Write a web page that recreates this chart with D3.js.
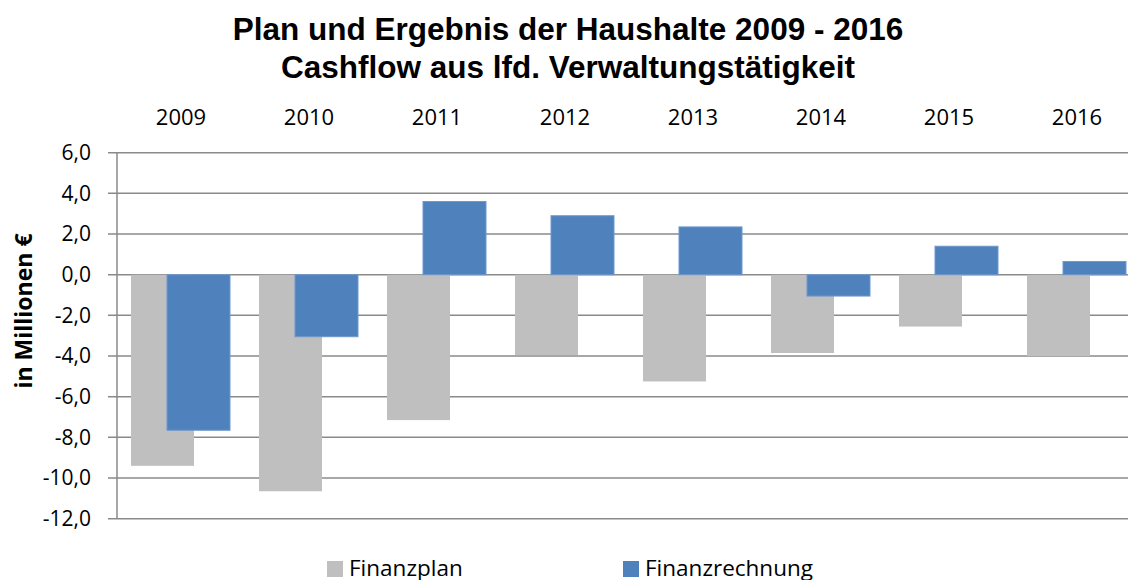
<!DOCTYPE html>
<html>
<head>
<meta charset="utf-8">
<script src="https://cdn.jsdelivr.net/npm/d3@7"></script>
<style>
  body { margin: 0; background: #fff; }
  svg { display: block; }
</style>
</head>
<body>
<div id="chart"></div>
<script>
// chart data
const years = ["2009", "2010", "2011", "2012", "2013", "2014", "2015", "2016"];
const seriesNames = ["Finanzplan", "Finanzrechnung"];
const finanzplan = [-9.4, -10.65, -7.15, -3.95, -5.25, -3.85, -2.55, -4.0];
const finanzrechnung = [-7.65, -3.05, 3.6, 2.9, 2.35, -1.05, 1.4, 0.65];
const yTicks = [6, 4, 2, 0, -2, -4, -6, -8, -10, -12];
const titleLines = ["Plan und Ergebnis der Haushalte 2009 - 2016", "Cashflow aus lfd. Verwaltungstätigkeit"];

const W = 1128, H = 580;
const colors = { Finanzplan: "#bfbfbf", Finanzrechnung: "#4f81bd" };
const gridColor = "#8a8a8a";
const font = "'Open Sans', 'DejaVu Sans', sans-serif";

const svg = d3.select("#chart").append("svg")
  .attr("width", W)
  .attr("height", H);

const x = d3.scaleBand()
  .domain(years)
  .range([117, 1141]);

const y = d3.scaleLinear()
  .domain([-12, 6])
  .range([518.7, 152.7]);

// offset of each series bar inside a category (bars overlap)
const barW = 63;
const xs = d3.scalePoint()
  .domain(seriesNames)
  .range([14, 50]);

// title
svg.append("g")
  .selectAll("text")
  .data(titleLines)
  .enter().append("text")
  .attr("x", 568)
  .attr("y", (d, i) => 40 + i * 38)
  .attr("text-anchor", "middle")
  .attr("font-family", "'Liberation Sans', Arial, sans-serif")
  .attr("font-weight", "bold")
  .attr("font-size", 31.5)
  .attr("fill", "#000")
  .text(d => d);

// gridlines + tick marks
const grid = svg.append("g");
grid.selectAll("line.grid")
  .data(yTicks)
  .enter().append("line")
  .attr("class", "grid")
  .attr("x1", 108)
  .attr("x2", 1141)
  .attr("y1", d => y(d))
  .attr("y2", d => y(d))
  .attr("stroke", gridColor)
  .attr("stroke-width", 1.5);

// vertical axis line
svg.append("line")
  .attr("x1", x.range()[0])
  .attr("x2", x.range()[0])
  .attr("y1", y(6))
  .attr("y2", y(-12))
  .attr("stroke", gridColor)
  .attr("stroke-width", 1.5);

// y tick labels
svg.append("g")
  .selectAll("text")
  .data(yTicks)
  .enter().append("text")
  .attr("x", 91)
  .attr("y", d => y(d))
  .attr("dy", "0.35em")
  .attr("text-anchor", "end")
  .attr("font-family", font)
  .attr("font-size", 21)
  .attr("fill", "#000")
  .text(d => d3.format(".1f")(d).replace(".", ",").replace("−", "-"));

// y axis title
svg.append("text")
  .attr("transform", "translate(32,311) rotate(-90)")
  .attr("text-anchor", "middle")
  .attr("font-family", font)
  .attr("font-weight", "bold")
  .attr("font-size", 23)
  .attr("fill", "#000")
  .text("in Millionen €");

// category labels at top
svg.append("g")
  .selectAll("text")
  .data(years)
  .enter().append("text")
  .attr("x", d => x(d) + x.bandwidth() / 2)
  .attr("y", 125)
  .attr("text-anchor", "middle")
  .attr("font-family", font)
  .attr("font-size", 22)
  .attr("fill", "#000")
  .text(d => d);

// bars
const seriesData = [
  { name: "Finanzplan", values: finanzplan },
  { name: "Finanzrechnung", values: finanzrechnung }
];

seriesData.forEach(s => {
  svg.append("g")
    .selectAll("rect")
    .data(s.values.map((v, i) => ({ year: years[i], value: v })))
    .enter().append("rect")
    .attr("x", d => x(d.year) + xs(s.name))
    .attr("y", d => y(Math.max(0, d.value)))
    .attr("width", barW)
    .attr("height", d => Math.abs(y(d.value) - y(0)))
    .attr("fill", colors[s.name])
    .attr("stroke", s.name === "Finanzrechnung" ? "#6f98cc" : "none")
    .attr("stroke-width", 1);
});

// legend
const legendPos = [327, 623];
const legend = svg.append("g")
  .selectAll("g")
  .data(seriesNames)
  .enter().append("g")
  .attr("transform", (d, i) => `translate(${legendPos[i]},561)`);

legend.append("rect")
  .attr("width", 16)
  .attr("height", 16)
  .attr("fill", d => colors[d]);

legend.append("text")
  .attr("x", 22)
  .attr("y", 15)
  .attr("font-family", font)
  .attr("font-size", 22.5)
  .attr("fill", "#000")
  .text(d => d);
</script>
</body>
</html>
